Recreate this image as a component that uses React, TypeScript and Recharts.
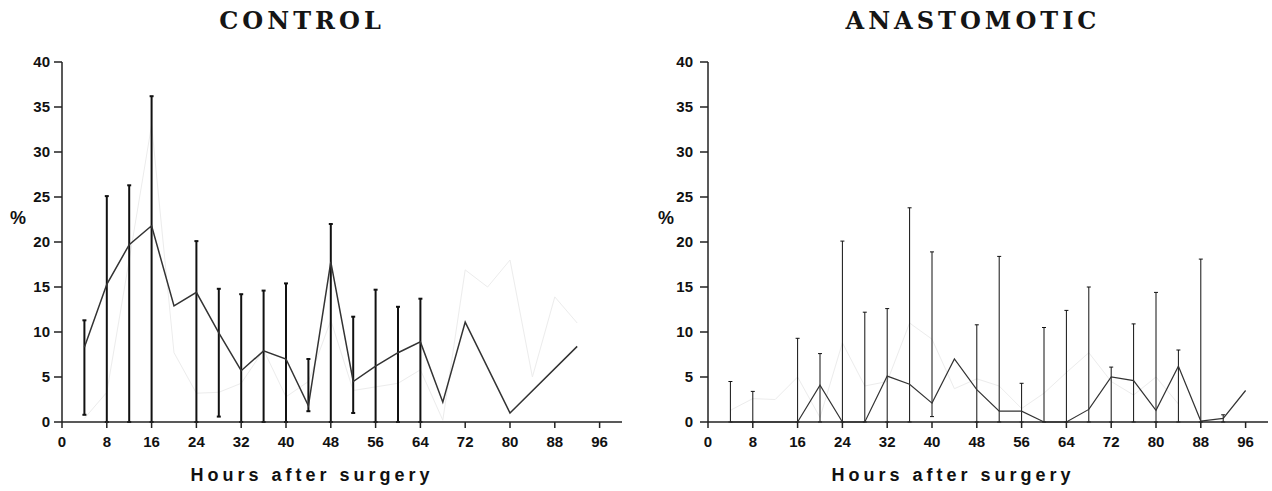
import { LineChart, Line, XAxis, YAxis, ErrorBar } from 'recharts';

// CONTROL panel
const ctrlHours = [4, 8, 12, 16, 20, 24, 28, 32, 36, 40, 44, 48, 52, 56, 60, 64, 68, 72, 80, 92];
const ctrlMean = [8.3, 15.3, 19.7, 21.8, 12.9, 14.4, 9.9, 5.7, 7.9, 7.0, 1.8, 17.8, 4.5, 6.2, 7.7, 8.9, 2.2, 11.1, 1.0, 8.4];
const ctrlLow = [0.8, 0, 0, 0, null, 0, 0.6, 0, 0, 0, 1.2, 0, 1.0, 0, 0, 0, null, null, null, null];
const ctrlHigh = [11.3, 25.1, 26.3, 36.2, null, 20.1, 14.8, 14.2, 14.6, 15.4, 7.0, 22.0, 11.7, 14.7, 12.8, 13.7, null, null, null, null];
const ctrlFaintHours = [4, 8, 12, 16, 20, 24, 28, 32, 36, 40, 44, 48, 52, 56, 60, 64, 68, 72, 76, 80, 84, 88, 92];
const ctrlFaint = [0.4, 3.3, 18, 33, 7.7, 3.2, 3.3, 4.3, 8, 2.8, 4.5, 11.3, 3.5, 3.9, 4.3, 5.8, 0.2, 16.9, 15, 18, 5, 13.9, 11];

// ANASTOMOTIC panel
const anaHours = [4, 8, 12, 16, 20, 24, 28, 32, 36, 40, 44, 48, 52, 56, 60, 64, 68, 72, 76, 80, 84, 88, 92, 96];
const anaMean = [0, 0, 0, 0, 4.1, 0, 0, 5.1, 4.2, 2.1, 7.0, 3.6, 1.2, 1.2, 0, 0, 1.4, 5.0, 4.6, 1.3, 6.2, 0.1, 0.4, 3.5];
const anaLow = [0, 0, null, 0, 0, 0, 0, 0, 0, 0.6, null, 0, 0, 0, 0, 0, 0, 0, 0, 0, 0, 0, 0, null];
const anaHigh = [4.5, 3.4, null, 9.3, 7.6, 20.1, 12.2, 12.6, 23.8, 18.9, null, 10.8, 18.4, 4.3, 10.5, 12.4, 15.0, 6.1, 10.9, 14.4, 8.0, 18.1, 0.8, null];
const anaFaintHours = [4, 8, 12, 16, 20, 24, 28, 32, 36, 40, 44, 48, 52, 56, 60, 64, 68, 72, 76, 80, 84];
const anaFaint = [1.3, 2.6, 2.5, 5, 0.5, 8.8, 4, 4.5, 11, 9.2, 3.7, 4.8, 4, 1.5, 3.2, 5.5, 7.7, 4.5, 3, 5, 2];

const xTicks = [0, 8, 16, 24, 32, 40, 48, 56, 64, 72, 80, 88, 96];
const yTicks = [0, 5, 10, 15, 20, 25, 30, 35, 40];

function buildRows(hours: number[], mean: number[], low: (number | null)[], high: (number | null)[]) {
  return hours.map((h, i) => ({
    h,
    v: mean[i],
    err: low[i] == null || high[i] == null ? undefined : [mean[i] - (low[i] as number), (high[i] as number) - mean[i]],
  }));
}

const tickStyle = { fontFamily: 'Liberation Sans, Arial, sans-serif', fontWeight: 700, fontSize: 15, fill: '#111' };

function Panel({ left, rows, faint, lineW, barW, tickGap }: any) {
  return (
    <div style={{ position: 'absolute', left, top: 0 }}>
      <LineChart width={636} height={491} margin={{ top: 62, right: 14, bottom: 0, left: 0 }}>
        <XAxis
          dataKey="h" type="number" domain={[0, 100]} ticks={xTicks} allowDataOverflow
          height={69} tickSize={6} tickMargin={8} tick={tickStyle}
          axisLine={{ stroke: '#222', strokeWidth: 1.5 }} tickLine={{ stroke: '#222', strokeWidth: 1.5 }}
        />
        <YAxis
          type="number" domain={[0, 40]} ticks={yTicks} width={62}
          tickSize={8} tickMargin={tickGap} tick={tickStyle}
          axisLine={{ stroke: '#222', strokeWidth: 1.5 }} tickLine={{ stroke: '#222', strokeWidth: 1.5 }}
        />
        <Line data={faint} dataKey="v" stroke="#ececec" strokeWidth={1} dot={false} isAnimationActive={false} />
        <Line data={rows} dataKey="v" stroke="#333" strokeWidth={lineW} dot={false} isAnimationActive={false}>
          <ErrorBar dataKey="err" direction="y" width={2} stroke="#111" strokeWidth={barW} />
        </Line>
      </LineChart>
    </div>
  );
}

const titleStyle: any = {
  position: 'absolute', fontFamily: 'DejaVu Serif, serif', fontWeight: 700, fontSize: 24, letterSpacing: 4,
  color: '#151515', transform: 'translateX(-50%)', whiteSpace: 'nowrap', top: 6,
};
const xLabelStyle: any = {
  position: 'absolute', fontFamily: 'Liberation Sans, Arial, sans-serif', fontWeight: 700, fontSize: 18,
  letterSpacing: 4, color: '#111', transform: 'translateX(-50%)', whiteSpace: 'nowrap', top: 465,
};
const pctStyle: any = {
  position: 'absolute', fontFamily: 'Liberation Sans, Arial, sans-serif', fontWeight: 700, fontSize: 18, color: '#111', top: 208,
};

export default function App() {
  const ctrlRows = buildRows(ctrlHours, ctrlMean, ctrlLow, ctrlHigh);
  const ctrlFaintRows = ctrlFaintHours.map((h, i) => ({ h, v: ctrlFaint[i] }));
  const anaRows = buildRows(anaHours, anaMean, anaLow, anaHigh);
  const anaFaintRows = anaFaintHours.map((h, i) => ({ h, v: anaFaint[i] }));

  return (
    <div style={{ position: 'absolute', left: 0, top: 0, width: 1272, height: 491, background: '#fff', overflow: 'hidden' }}>
      <Panel left={0} rows={ctrlRows} faint={ctrlFaintRows} lineW={1.5} barW={2} tickGap={4} />
      <Panel left={646} rows={anaRows} faint={anaFaintRows} lineW={1.2} barW={1} tickGap={7} />
      <div style={{ ...titleStyle, left: 302 }}>CONTROL</div>
      <div style={{ ...titleStyle, left: 973 }}>ANASTOMOTIC</div>
      <div style={{ ...xLabelStyle, left: 312 }}>Hours after surgery</div>
      <div style={{ ...xLabelStyle, left: 953 }}>Hours after surgery</div>
      <div style={{ ...pctStyle, left: 10 }}>%</div>
      <div style={{ ...pctStyle, left: 658 }}>%</div>
    </div>
  );
}
